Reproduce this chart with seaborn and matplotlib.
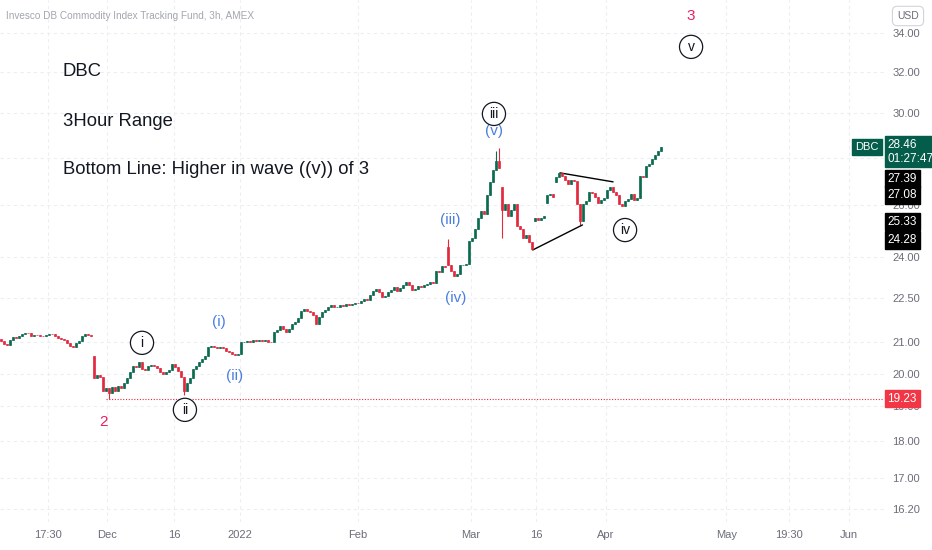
import numpy as np
import pandas as pd
import matplotlib
matplotlib.use("Agg")
import matplotlib.pyplot as plt
from matplotlib import font_manager as fm
import seaborn as sns

# 3h closes, DBC, mid Nov 2021 -> mid Apr 2022
closes = [
    21.05, 20.95, 20.92, 21.08, 21.18, 21.15, 21.20, 21.28, 21.32, 21.30,
    21.22, 21.25, 21.24, 21.22, 21.20, 21.25, 21.28, 21.26, 21.22, 21.14,
    21.10, 21.08, 20.98, 20.88, 20.85, 20.97, 21.05, 21.20, 21.26, 21.24,
    21.22,
    19.85, 19.95, 19.90, 19.45, 19.55, 19.40, 19.60, 19.45, 19.62,
    19.55, 19.72, 19.85, 20.05, 20.25, 20.20, 20.35, 20.15, 20.12, 20.25,
    20.28, 20.25, 20.18, 20.05, 19.98, 20.05, 20.10, 20.30, 20.20, 20.08,
    19.90, 19.45, 19.72, 19.85, 20.15, 20.25, 20.35, 20.45, 20.55, 20.85,
    20.88, 20.85, 20.82, 20.86, 20.80, 20.72, 20.68, 20.62, 20.60, 20.62,
    21.00, 21.02, 21.05, 21.00, 21.06, 21.05, 21.08, 21.04, 21.06, 21.02,
    21.00, 21.35, 21.42, 21.55, 21.45, 21.35, 21.45, 21.60, 21.68, 21.80,
    22.05, 22.10, 22.05, 22.00, 21.90, 21.62, 21.85, 22.00, 22.08, 22.20,
    22.25, 22.18, 22.20, 22.25, 22.22, 22.28, 22.26, 22.30, 22.34, 22.32,
    22.38, 22.45, 22.42, 22.60, 22.75, 22.80, 22.72, 22.55, 22.58, 22.70,
    22.78, 22.90, 22.75, 22.85, 22.95, 23.05, 22.95, 22.78, 22.80, 22.92,
    22.90, 22.95, 22.98, 23.05, 23.02, 23.48, 23.42, 23.65, 23.60, 23.70,
    23.45, 23.30, 23.35, 23.68, 23.70, 23.72, 24.60, 24.70, 25.05, 25.50,
    25.75, 25.65, 26.40, 26.95, 27.45, 27.85, 27.55, 25.80, 26.05, 25.55,
    25.80, 26.05, 25.15, 25.05, 24.70, 24.80, 24.55, 24.30, 25.48, 25.42,
    25.50, 25.55, 26.40, 26.45, 26.35, 27.15, 27.35, 27.20, 27.05, 26.85,
    27.05, 27.00, 26.05, 25.35, 26.05, 26.15, 26.55, 26.50, 26.35, 26.10,
    26.20, 26.30, 26.60, 26.75, 26.55, 26.40, 26.05, 25.95, 26.15, 26.25,
    26.45, 26.20, 26.30, 27.20, 27.15, 27.65, 27.70, 27.95, 28.10, 28.30,
    28.46,
]
# bars that open away from the previous close
gap_opens = {0: 21.12, 31: 20.55, 149: 24.35, 167: 26.75, 178: 25.35,
             182: 26.10, 185: 26.95}
# visible wicks
wick_highs = {149: 24.65, 165: 28.30, 166: 28.40}
wick_lows = {36: 19.23, 61: 19.35, 167: 24.70, 177: 24.25, 193: 25.21}

price_ticks = [34, 32, 30, 28, 26, 24, 22.5, 21, 20, 19, 18, 17, 16.2]
time_labels = ["17:30", "Dec", "16", "2022", "Feb", "Mar", "16", "Apr", "May", "19:30", "Jun"]
time_pos = [15.7, 35.3, 57.7, 79.7, 119, 156.7, 178.3, 201.7, 241.7, 262.7, 282.7]

black_tags = [27.39, 27.08, 25.33, 24.28]
tag_down_px = [7, 16, 0, -9]  # tags pushed apart on the price scale
last_price = 28.46
support = 19.23

tri_lower_x = [177.3, 193.8]
tri_lower_y = [24.25, 25.21]
tri_upper_x = [186.3, 204.0]
tri_upper_y = [27.34, 26.96]

UP = "#0b6b50"
DOWN = "#e2293d"
TEAL = "#045c4a"
PINK = "#e91e63"
BLUE = "#4a7fe0"
INK = "#131722"
AXTXT = "#6a6d78"

n = len(closes)
idx = np.arange(n)
opens = [gap_opens.get(i, closes[i - 1] if i else closes[0]) for i in idx]
df = pd.DataFrame({"bar": idx, "open": opens, "close": closes})
df["high"] = [wick_highs.get(i, max(o, c)) for i, o, c in zip(idx, df.open, df.close)]
df["low"] = [wick_lows.get(i, min(o, c)) for i, o, c in zip(idx, df.open, df.close)]
df["color"] = np.where(df.close >= df.open, UP, DOWN)

sns.set_style("white")
names = {f.name for f in fm.fontManager.ttflist}
if "Liberation Sans Narrow" in names:
    plt.rcParams["font.family"] = ["Liberation Sans Narrow", "DejaVu Sans"]
    big, small = 15, 9
else:
    plt.rcParams["font.family"] = ["Liberation Sans", "DejaVu Sans"]
    big, small = 13.3, 7.2

fig = plt.figure(figsize=(9.32, 5.5), dpi=100)
ax = fig.add_axes([0, 28 / 550, 884 / 932, 522 / 550])
ax.set_yscale("log")
ax.set_ylim(15.87, 35.79)
ax.set_xlim(-0.33, 294.3)

# grid
for p in price_ticks:
    ax.axhline(p, color="#eceef3", lw=0.8, ls=(0, (3, 3)), zorder=0)
for t in time_pos:
    ax.axvline(t, color="#eceef3", lw=0.8, ls=(0, (3, 3)), zorder=0)

# candles
ax.vlines(df.bar, df.low, df.high, colors=df.color, lw=0.8, zorder=2)
body = (df.close - df.open).abs()
ax.bar(df.bar, body, bottom=df[["open", "close"]].min(axis=1), width=0.62,
       color=df.color, edgecolor=df.color, lw=0.5, zorder=3)

# support line and triangle
ax.hlines(support, 35, 294.3, colors=DOWN, lw=0.8, ls=(0, (1, 1.5)), zorder=1)
sns.lineplot(x=tri_lower_x, y=tri_lower_y, color="black", lw=1, ax=ax)
sns.lineplot(x=tri_upper_x, y=tri_upper_y, color="black", lw=1, ax=ax)

# axes cosmetics
ax.yaxis.tick_right()
ax.set_yticks(price_ticks)
ax.set_yticklabels([f"{p:.2f}" for p in price_ticks])
ax.minorticks_off()
ax.set_xticks(time_pos)
ax.set_xticklabels(time_labels)
ax.tick_params(axis="both", length=0, labelsize=8, colors=AXTXT)
ax.tick_params(axis="y", pad=6)
ax.tick_params(axis="x", pad=6)
for s in ax.spines.values():
    s.set_visible(False)
ax.set_xlabel("")
ax.set_ylabel("")

# price tags on the scale
ytr = ax.get_yaxis_transform()
for v, dn in zip(black_tags, tag_down_px):
    ax.annotate(f"{v:.2f}", xy=(1.004, v), xycoords=ytr, xytext=(0, -dn * 0.72),
                textcoords="offset points", ha="left", va="center", fontsize=8.5,
                color="white", annotation_clip=False, zorder=6,
                bbox=dict(boxstyle="square,pad=0.22", fc="black", ec="black"))
ax.text(1.004, support, f"{support:.2f}", transform=ytr, ha="left", va="center", fontsize=8.5,
        color="white", clip_on=False,
        bbox=dict(boxstyle="square,pad=0.22", fc="#f23645", ec="#f23645"))
ax.annotate(f"{last_price:.2f}\n01:27:47", xy=(1.004, last_price), xycoords=ytr,
            xytext=(0, 6), textcoords="offset points", ha="left", va="top",
            fontsize=8.5, color="white", linespacing=1.2, annotation_clip=False, zorder=7,
            bbox=dict(boxstyle="square,pad=0.22", fc=TEAL, ec=TEAL))
ax.text(0.994, last_price, "DBC", transform=ytr, ha="right", va="center", fontsize=8,
        color="white", clip_on=False,
        bbox=dict(boxstyle="square,pad=0.3", fc=TEAL, ec=TEAL))

# headline text
fig.text(6 / 932, 1 - 16 / 550, "Invesco DB Commodity Index Tracking Fund, 3h, AMEX",
         fontsize=small, color="#a3a6af", va="center")
fig.text(63 / 932, 1 - 72 / 550, "DBC", fontsize=big, color=INK, va="center")
fig.text(63 / 932, 1 - 122 / 550, "3Hour Range", fontsize=big, color=INK, va="center")
fig.text(63 / 932, 1 - 170 / 550, "Bottom Line: Higher in wave ((v)) of 3",
         fontsize=big, color=INK, va="center")
fig.text(908 / 932, 1 - 16 / 550, "USD", fontsize=7.5, color=AXTXT, ha="center", va="center",
         bbox=dict(boxstyle="round,pad=0.45", fc="white", ec="#d1d4dc", lw=0.8))

# wave labels
plain = [("2", 34.3, 18.55, PINK), ("(i)", 72.7, 21.68, BLUE), ("(ii)", 78.0, 19.93, BLUE),
         ("(iii)", 149.7, 25.41, BLUE), ("(iv)", 151.7, 22.50, BLUE),
         ("(v)", 164.3, 29.18, BLUE), ("3", 230.0, 34.91, PINK)]
for txt, x, y, c in plain:
    ax.text(x, y, txt, color=c, fontsize=11, ha="center", va="center", zorder=4)
circled = [("i", 47.0, 20.98), ("ii", 61.3, 18.90), ("iii", 164.3, 29.97),
           ("iv", 208.0, 25.01), ("v", 230.0, 33.27)]
for txt, x, y in circled:
    ax.text(x, y, txt, color=INK, fontsize=10, ha="center", va="center", zorder=5,
            bbox=dict(boxstyle="circle,pad=0.33", fc="white", ec=INK, lw=0.9))

fig.savefig("out.png", dpi=100, facecolor="white")
